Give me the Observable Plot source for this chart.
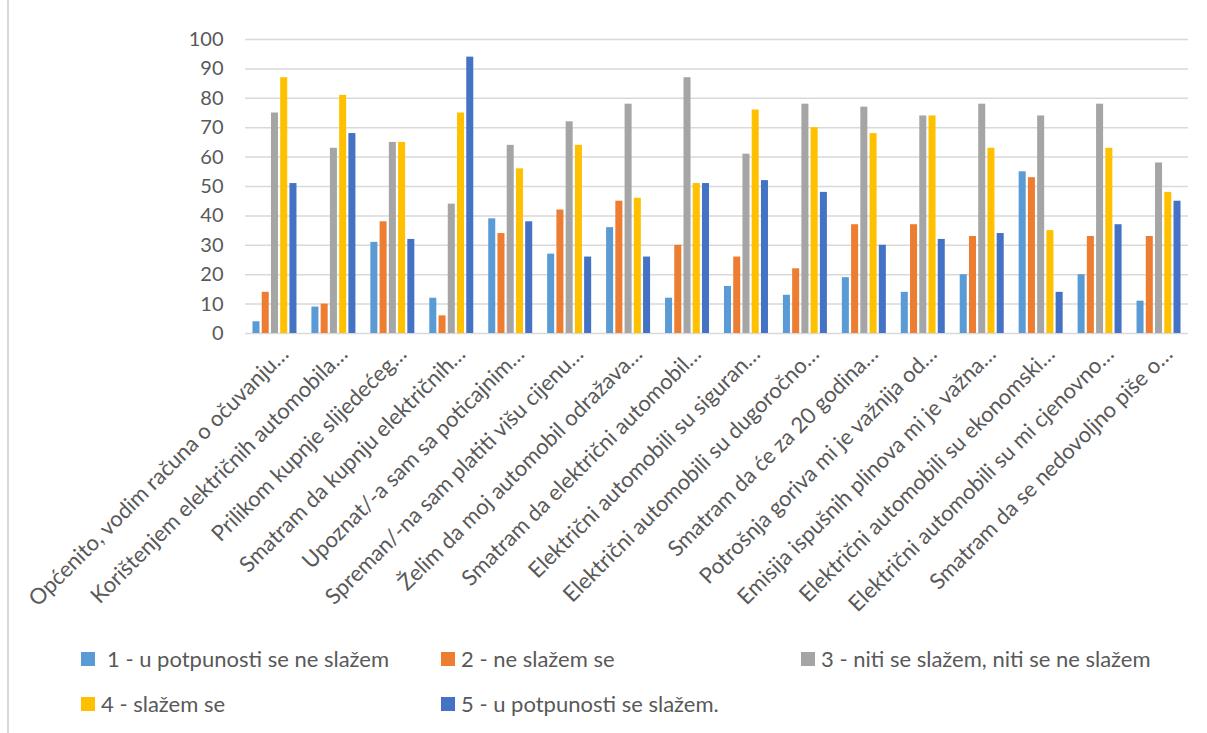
<!DOCTYPE html>
<html><head><meta charset="utf-8">
<script src="https://cdn.jsdelivr.net/npm/d3@7"></script>
<script src="https://cdn.jsdelivr.net/npm/@observablehq/plot@0.6"></script>
<style>
body{margin:0;background:#fff;font-family:Lato, sans-serif;}
#wrap{position:relative;width:1207px;height:733px;overflow:hidden;background:#fff;}
#border{position:absolute;left:7px;top:0;width:1300px;height:733px;border-left:2px solid #d9d9d9;box-sizing:border-box;}
#chart{position:absolute;left:0;top:0;}
.leg{position:absolute;font-size:22px;line-height:22px;color:#595959;white-space:nowrap;}
.sw{position:absolute;width:14px;height:14px;}
</style></head><body>
<div id="wrap"><div id="border"></div><div id="chart"></div><div id="legend"></div></div>
<script>
const categories = [
  "Općenito, vodim računa o očuvanju…",
  "Korištenjem električnih automobila…",
  "Prilikom kupnje slijedećeg…",
  "Smatram da kupnju električnih…",
  "Upoznat/-a sam sa poticajnim…",
  "Spreman/-na sam platiti višu cijenu…",
  "Želim da moj automobil odražava…",
  "Smatram da električni automobil…",
  "Električni automobili su siguran…",
  "Električni automobili su dugoročno…",
  "Smatram da će za 20 godina…",
  "Potrošnja goriva mi je važnija od…",
  "Emisija ispušnih plinova mi je važna…",
  "Električni automobili su ekonomski…",
  "Električni automobili su mi cjenovno…",
  "Smatram da se nedovoljno piše o…"
];
const series = [
  "1 - u potpunosti se ne slažem",
  "2 - ne slažem se",
  "3 - niti se slažem, niti se ne slažem",
  "4 - slažem se",
  "5 - u potpunosti se slažem."
];
const colors = ["#5B9BD5", "#ED7D31", "#A5A5A5", "#FFC000", "#4472C4"];
const s1 = [4, 9, 31, 12, 39, 27, 36, 12, 16, 13, 19, 14, 20, 55, 20, 11];
const s2 = [14, 10, 38, 6, 34, 42, 45, 30, 26, 22, 37, 37, 33, 53, 33, 33];
const s3 = [75, 63, 65, 44, 64, 72, 78, 87, 61, 78, 77, 74, 78, 74, 78, 58];
const s4 = [87, 81, 65, 75, 56, 64, 46, 51, 76, 70, 68, 74, 63, 35, 63, 48];
const s5 = [51, 68, 32, 94, 38, 26, 26, 51, 52, 48, 30, 32, 34, 14, 37, 45];
const yTicks = [0, 10, 20, 30, 40, 50, 60, 70, 80, 90, 100];

const values = [s1, s2, s3, s4, s5];
const data = categories.flatMap((c, i) => series.map((s, j) => ({category: c, series: s, value: values[j][i]})));

const W = 1207, ML = 245, MR = 19;
const padIn = 0.216, padOut = padIn / 2;
const step = (W - ML - MR) / (categories.length - padIn + 2 * padOut);
const facetOffset = padOut * step;

const chart = Plot.plot({
  width: W, height: 640,
  marginLeft: ML, marginRight: MR, marginTop: 39, marginBottom: 307,
  style: {fontFamily: "Lato, sans-serif", color: "#595959", background: "transparent", overflow: "visible"},
  fx: {domain: categories, paddingInner: padIn, paddingOuter: padOut, round: false, label: null},
  x: {domain: series, paddingInner: 0.24, paddingOuter: 0.12, round: false, axis: null},
  y: {domain: [0, 100], axis: null},
  color: {domain: series, range: colors},
  marks: [
    Plot.axisY({ticks: yTicks, tickSize: -(W - ML - MR), text: null, stroke: "#d9d9d9", strokeWidth: 1.5, strokeOpacity: 1, dx: -facetOffset, label: null}),
    Plot.barY(data, {fx: "category", x: "series", y: "value", fill: "series"}),
    Plot.axisY({ticks: yTicks, tickSize: 0, tickPadding: 22, fontSize: 20, fill: "#595959", dx: -facetOffset, label: null}),
    Plot.axisFx({anchor: "bottom", tickRotate: -45, tickSize: 0, tickPadding: 17, fontSize: 22, fill: "#595959", dx: 10, label: null})
  ]
});
document.getElementById("chart").appendChild(chart);

const legend = document.getElementById("legend");
const legX = [81, 441, 801, 81, 441];
const legY = [652, 652, 652, 697, 697];
const legGap = [26, 20, 20, 20, 20];
series.forEach((s, i) => {
  const sw = document.createElement("div");
  sw.className = "sw";
  sw.style.left = legX[i] + "px";
  sw.style.top = legY[i] + "px";
  sw.style.background = colors[i];
  legend.appendChild(sw);
  const t = document.createElement("div");
  t.className = "leg";
  t.style.left = (legX[i] + legGap[i]) + "px";
  t.style.top = (legY[i] - 4) + "px";
  t.textContent = s;
  legend.appendChild(t);
});
</script>
</body></html>
